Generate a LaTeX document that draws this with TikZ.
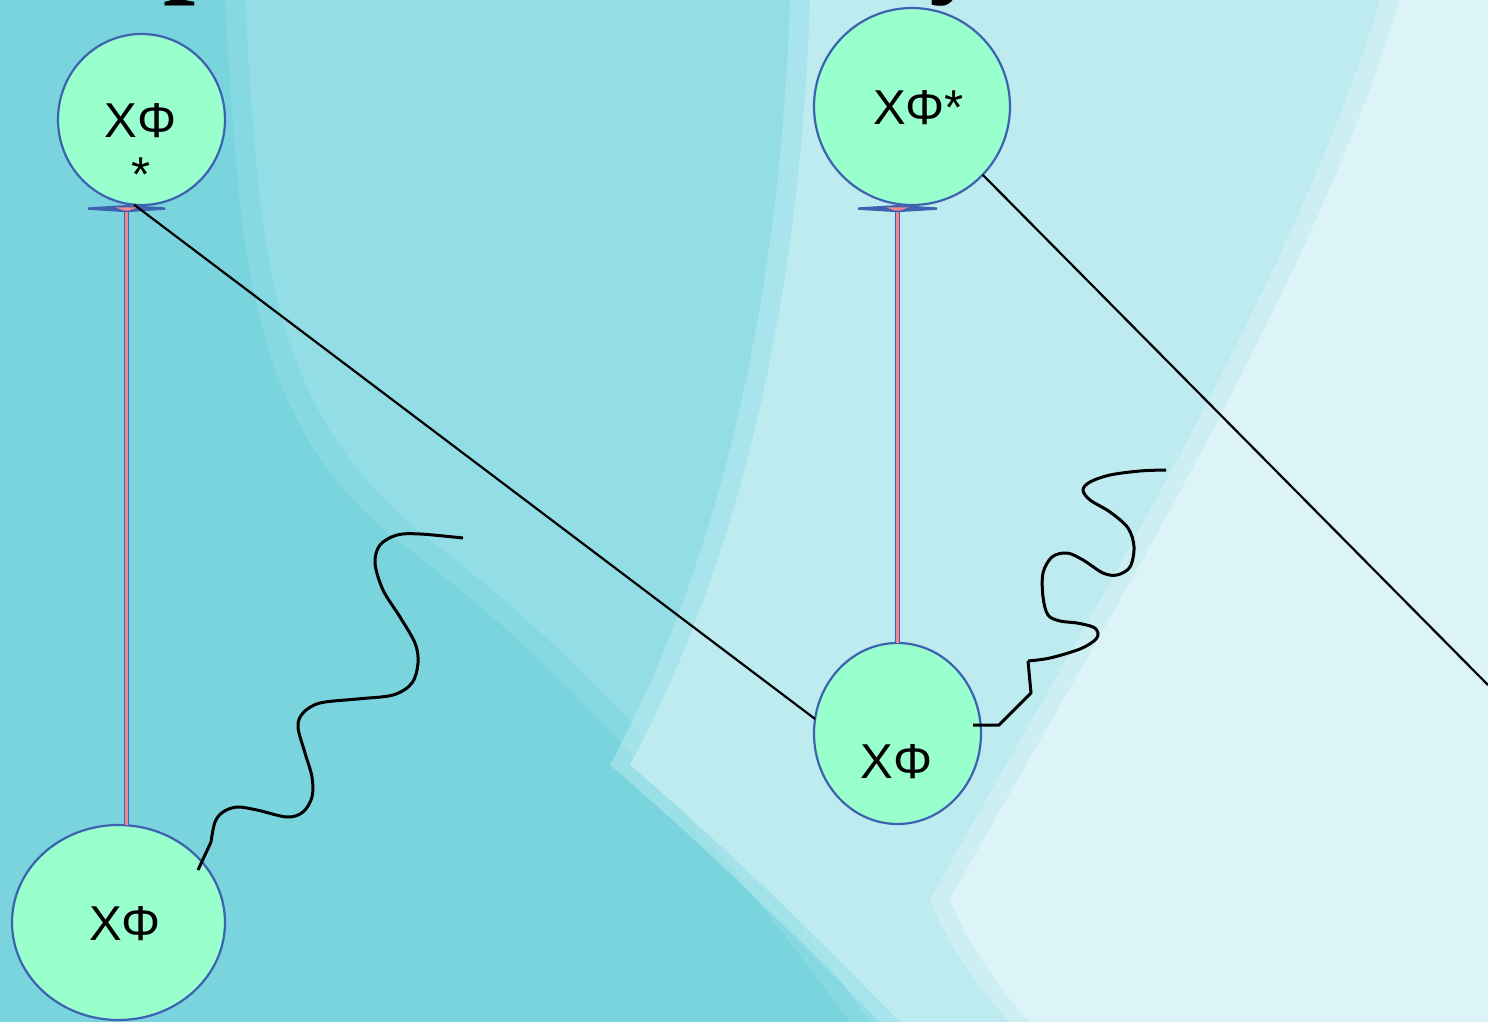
\documentclass[tikz,border=0pt]{standalone}
\usepackage{fontspec}
\setmainfont{Liberation Sans}
\newfontfamily\titlefont{Liberation Serif}
\usetikzlibrary{shapes.geometric}
\definecolor{bgdark}{HTML}{79D4DE}
\definecolor{bgmid}{HTML}{93DEE6}
\definecolor{bglight}{HTML}{BEEBF0}
\definecolor{bgpale}{HTML}{DCF4F7}
\definecolor{mint}{HTML}{99FFCC}
\definecolor{nodeblue}{HTML}{3D62B0}
\definecolor{linkpink}{HTML}{F4878F}
\begin{document}
\begin{tikzpicture}[x=1pt,y=-1pt,
  circ/.style={ellipse, draw=nodeblue, fill=mint, line width=2.2pt, inner sep=0pt, outer sep=0pt},
  lbl/.style={inner sep=0pt, font=\fontsize{49}{56}\selectfont},
  wire/.style={black, line width=2.2pt},
  wave/.style={black, line width=3pt, line join=round},
  prop/.style={draw=nodeblue, line width=1.8pt, double=linkpink, double distance=2.2pt},
  tbar/.style={fill=nodeblue, draw=none},
  title/.style={inner sep=0pt, anchor=base west, font=\titlefont\bfseries\fontsize{115}{120}\selectfont}]
\useasboundingbox (0,0) rectangle (1488,1022);
% background
\fill[bgdark] (0,0) rectangle (1488,1022);
\fill[bgmid, opacity=0.5] (225,0) .. controls (240,250) and (245,430) .. (410,550)
  .. controls (550,655) and (690,805) .. (850,1022) -- (1488,1022) -- (1488,0) -- cycle;
\fill[bgmid] (245,0) .. controls (260,250) and (265,410) .. (430,540)
  .. controls (570,645) and (710,795) .. (870,1022) -- (1488,1022) -- (1488,0) -- cycle;
\fill[bglight, opacity=0.5] (790,0) .. controls (780,300) and (720,560) .. (610,765)
  .. controls (710,850) and (810,950) .. (880,1022) -- (1488,1022) -- (1488,0) -- cycle;
\fill[bglight] (810,0) .. controls (800,300) and (740,560) .. (630,765)
  .. controls (730,850) and (830,950) .. (900,1022) -- (1488,1022) -- (1488,0) -- cycle;
\fill[bgpale, opacity=0.5] (1380,0) .. controls (1290,300) and (1050,680) .. (930,900)
  .. controls (955,960) and (990,1000) .. (1010,1022) -- (1488,1022) -- (1488,0) -- cycle;
\fill[bgpale] (1400,0) .. controls (1310,300) and (1070,680) .. (950,900)
  .. controls (975,960) and (1010,1000) .. (1030,1022) -- (1488,1022) -- (1488,0) -- cycle;
% title fragments
\node[title] (tp) at (163,-18) {p};
\node[title] (ty) at (929,-18) {y};
% nodes
\node[circ, minimum width=167pt, minimum height=171pt] (tl) at (141.5,119.5) {};
\node[circ, minimum width=196pt, minimum height=197pt] (tr) at (912,106.5) {};
\node[circ, minimum width=167pt, minimum height=181pt] (bm) at (897.5,733.5) {};
\node[circ, minimum width=213pt, minimum height=195pt] (bl) at (118.5,922.5) {};
\node[lbl] (tlt) at (140.5,120.5) {XΦ};
\node[lbl, anchor=north] (tls) at (141.5,157.5) {*};
\node[lbl] (trt) at (918.5,107.5) {XΦ*};
\node[lbl] (bmt) at (896.5,761.5) {XΦ};
\node[lbl] (blt) at (125,923.5) {XΦ};
% vertical propagators
\coordinate (b1) at (126.5,208);
\coordinate (b2) at (897.5,208);
\draw[prop] (b1) -- (b1 |- bl.north);
\draw[prop] (b2) -- (bm.north);
\fill[tbar] (88,207.4) -- (126.5,205) -- (165,207.4) -- (165,209.8) -- (126.5,212.2) -- (88,209.8) -- cycle;
\fill[tbar] (858,207.4) -- (897.5,205) -- (937,207.4) -- (937,209.8) -- (897.5,212.2) -- (858,209.8) -- cycle;
\fill[linkpink] (115,207.3) -- (138,207.3) -- (129,210.5) -- (124,210.5) -- cycle;
\fill[linkpink] (886,207.3) -- (909,207.3) -- (900,210.5) -- (895,210.5) -- cycle;
% straight lines
\coordinate (e2) at (1488,685);
\draw[wire] (tl.265) -- (bm.170);
\draw[wire] (tr.-44) -- (e2);
% wavy lines
\coordinate (w1) at (198,870);
\coordinate (w1e) at (463,538);
\draw[wave] (w1) -- (211,842) plot[smooth, tension=0.55] coordinates {(211,842) (215,822) (223,812) (237,807) (257,810) (287,817) (303,812) (312,797) (312,777) (305,753) (298,727) (303,713) (320,703) (357,699) (393,695) (412,683) (418,663) (415,643) (400,617) (383,590) (375,563) (380,545) (397,535) (420,534) (w1e)};
\coordinate (w2) at (973,725);
\coordinate (w2e) at (1166,470);
\draw[wave] (w2) -- (999,725) -- (1031,693) -- (1028,661) plot[smooth, tension=0.55] coordinates {(1028,661) (1050,658) (1080,649) (1095,640) (1098,633) (1093,627) (1077,623) (1060,621) (1048,615) (1043,597) (1043,573) (1052,557) (1067,553) (1083,560) (1103,573) (1117,575) (1130,567) (1134,547) (1128,528) (1110,512) (1090,500) (1083,490) (1090,482) (1110,475) (1140,471) (w2e)};
\end{tikzpicture}
\end{document}
